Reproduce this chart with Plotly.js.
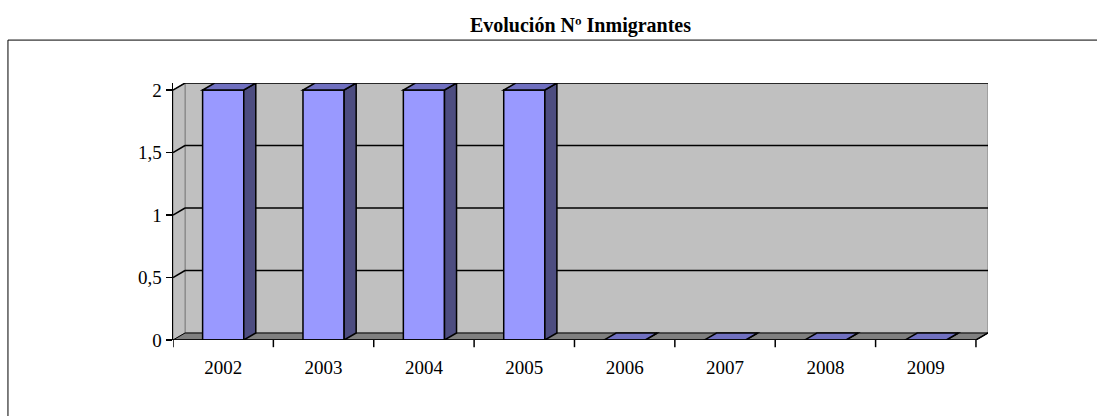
<!DOCTYPE html>
<html>
<head>
<meta charset="utf-8">
<script src="https://cdn.plot.ly/plotly-3.0.1.min.js"></script>
<style>body{margin:0;background:#fff}#chart{width:1097px;height:416px}</style>
</head>
<body>
<div id="chart"></div>
<script>
const years = ["2002", "2003", "2004", "2005", "2006", "2007", "2008", "2009"];
const inmigrantes = [2, 2, 2, 2, 0, 0, 0, 0];
const yTicks = [0, 0.5, 1, 1.5, 2];

const dx = 0.12, dy = 0.056, bw = 0.41;
const xs = years.map((y, i) => i);
const shapes = [];
const line = { color: "#000", width: 1.5 };

// back wall and floor
shapes.push({ type: "rect", layer: "below", x0: -0.5 + dx, x1: 7.5 + dx, y0: dy, y1: 2 + dy,
  fillcolor: "#c0c0c0", line: { color: "#808080", width: 1 } });
shapes.push({ type: "path", layer: "below", fillcolor: "#c0c0c0", line: { color: "#808080", width: 1 },
  path: `M-0.5,0 L${-0.5 + dx},${dy} L${-0.5 + dx},${2 + dy} L-0.5,2 Z` });
shapes.push({ type: "path", layer: "below", fillcolor: "#808080", line: { color: "#000", width: 1 },
  path: `M-0.5,0 L7.5,0 L${7.5 + dx},${dy} L${-0.5 + dx},${dy} Z` });
yTicks.slice(1).forEach(v => {
  shapes.push({ type: "line", layer: "below", x0: -0.5 + dx, x1: 7.5 + dx, y0: v + dy, y1: v + dy, line: line });
  shapes.push({ type: "line", layer: "below", x0: -0.5, x1: -0.5 + dx, y0: v, y1: v + dy, line: line });
});

// bar sides and tops
xs.forEach((x, i) => {
  const v = inmigrantes[i], l = x - bw / 2, r = x + bw / 2;
  shapes.push({ type: "path", fillcolor: "#4d4d80", line: line,
    path: `M${r},0 L${r + dx},${dy} L${r + dx},${v + dy} L${r},${v} Z` });
  shapes.push({ type: "path", fillcolor: "#7070c0", line: line,
    path: `M${l},${v} L${r},${v} L${r + dx},${v + dy} L${l + dx},${v + dy} Z` });
});

// category boundary ticks
for (let k = 0; k <= years.length; k++) {
  shapes.push({ type: "line", xref: "x", yref: "paper", x0: k - 0.5, x1: k - 0.5, y0: 0, y1: -0.028, line: line });
}

// outer frame
shapes.push({ type: "rect", xref: "paper", yref: "paper", x0: -0.2025, x1: 1.14, y0: -0.32, y1: 1.167,
  line: { color: "#000", width: 1 }, fillcolor: "rgba(0,0,0,0)" });

const data = [{
  type: "bar", x: xs, y: inmigrantes, width: bw,
  marker: { color: "#9999ff", line: { color: "#000", width: 1.5 } },
  hoverinfo: "skip"
}];

const layout = {
  width: 1097, height: 416,
  margin: { l: 173, r: 109, t: 83, b: 76 },
  paper_bgcolor: "#fff", plot_bgcolor: "rgba(0,0,0,0)",
  separators: ",.",
  showlegend: false,
  font: { family: "Liberation Serif, Times New Roman, serif", size: 19, color: "#000" },
  title: { text: "<b>Evolución Nº Inmigrantes</b>", x: 0.5, xref: "paper", y: 0.94, yanchor: "middle",
    font: { family: "Liberation Serif, serif", size: 20, color: "#000" } },
  xaxis: { range: [-0.5, 7.5 + dx], tickvals: xs, ticktext: years, ticks: "", showgrid: false,
    zeroline: false, showline: false, ticklabelstandoff: 14 },
  yaxis: { range: [0, 2 + dy], tickvals: yTicks, ticks: "outside", ticklen: 6, tickwidth: 1.5,
    tickcolor: "#000", showgrid: false, zeroline: false, showline: true, linecolor: "#000", linewidth: 1.5 },
  shapes: shapes
};

// x axis baseline
layout.shapes.push({ type: "line", x0: -0.5, x1: 7.5, y0: 0, y1: 0, line: line });
layout.shapes.push({ type: "line", x0: 7.5, x1: 7.5 + dx, y0: 0, y1: dy, line: line });

Plotly.newPlot("chart", data, layout, { displayModeBar: false, staticPlot: true });
</script>
</body>
</html>
